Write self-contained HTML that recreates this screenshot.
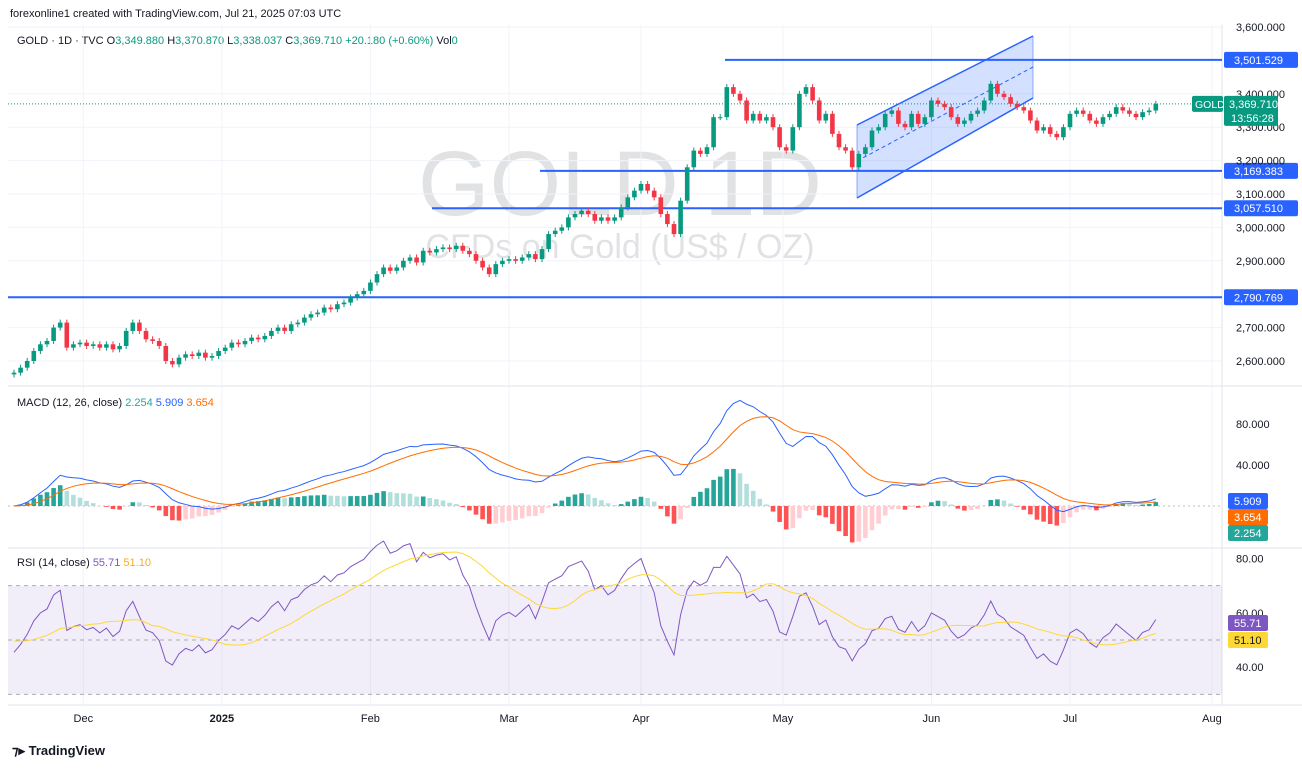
<!DOCTYPE html>
<html><head><meta charset="utf-8">
<style>
body{margin:0;background:#fff;font-family:"Liberation Sans",sans-serif;}
svg text{font-family:"Liberation Sans",sans-serif;}
</style></head>
<body>
<svg id="c" width="1302" height="768" xmlns="http://www.w3.org/2000/svg">
<rect width="1302" height="768" fill="#fff"/>
<text x="10" y="17" font-size="11" fill="#131722">forexonline1 created with TradingView.com, Jul 21, 2025 07:03 UTC</text>
<g font-size="11">
<text x="17" y="44" fill="#131722">GOLD · 1D · TVC  <tspan fill="#131722">O</tspan><tspan fill="#089981">3,349.880</tspan> H<tspan fill="#089981">3,370.870</tspan> L<tspan fill="#089981">3,338.037</tspan> C<tspan fill="#089981">3,369.710</tspan> <tspan fill="#089981">+20.180 (+0.60%)</tspan> Vol<tspan fill="#089981">0</tspan></text>
</g>
<text x="620" y="215" font-size="92" fill="#787b86" fill-opacity="0.22" text-anchor="middle">GOLD 1D</text>
<text x="620" y="258" font-size="34" fill="#787b86" fill-opacity="0.22" text-anchor="middle">CFDs on Gold (US$ / OZ)</text>
<g id="grid"></g>
<g id="main"></g>
<g id="macd"></g>
<g id="rsi"></g>
<g id="axes"></g>
<g>
<text x="12" y="755" font-size="13" font-weight="bold" fill="#131722">⁊▸ TradingView</text>
</g>
</svg>
<script>
const closes=[2565,2580,2600,2630,2650,2660,2700,2715,2640,2650,2655,2645,2650,2640,2650,2635,2645,2690,2715,2690,2665,2660,2645,2600,2590,2610,2620,2615,2625,2610,2615,2630,2640,2655,2650,2660,2670,2665,2675,2690,2700,2690,2710,2715,2730,2740,2745,2760,2755,2770,2775,2790,2800,2810,2835,2860,2880,2870,2880,2900,2910,2895,2930,2925,2935,2940,2935,2945,2930,2920,2900,2880,2860,2890,2900,2905,2900,2910,2920,2905,2935,2980,2990,3000,3030,3040,3050,3040,3020,3030,3020,3030,3060,3090,3110,3130,3110,3090,3040,3010,2980,3080,3180,3230,3220,3240,3330,3330,3420,3400,3380,3320,3340,3320,3330,3300,3240,3230,3300,3400,3420,3380,3320,3340,3280,3240,3230,3180,3220,3240,3290,3300,3340,3350,3310,3300,3340,3310,3330,3380,3370,3360,3330,3310,3320,3340,3350,3380,3430,3400,3390,3370,3360,3350,3320,3290,3300,3280,3270,3300,3340,3350,3340,3320,3310,3330,3340,3360,3350,3340,3330,3345,3350,3370];
const firstOpen=2560;
const priceTicks=[3600,3400,3300,3200,3100,3000,2900,2700,2600];
const levels=[3501.529,3169.383,3057.510,2790.769];
const levelStarts=[725,540,432,8];
const monthLabels=["Dec","2025","Feb","Mar","Apr","May","Jun","Jul","Aug"];
const monthIdx=[10.5,31.5,54,75,95,116.5,139,160,181.5];
const macdTicks=[80,40];
const rsiTicks=[80,60,40];

const NS="http://www.w3.org/2000/svg";
function el(tag,attrs,parent,txt){const e=document.createElementNS(NS,tag);for(const k in attrs)e.setAttribute(k,attrs[k]);if(txt!==undefined)e.textContent=txt;parent.appendChild(e);return e;}
const X=i=>14+i*6.6;
const Y=p=>361-(p-2600)*0.334;
const MY=v=>506-v*1.025;
const RY=v=>640-(v-50)*2.72;
const main=document.getElementById('main'),grid=document.getElementById('grid'),axes=document.getElementById('axes');
const mg=document.getElementById('macd'),rg=document.getElementById('rsi');

priceTicks.forEach(p=>{const l=el('line',{x1:8,x2:1222,y1:Y(p),y2:Y(p),stroke:'#f0f3fa'},grid);});
monthIdx.forEach(i=>{const l=el('line',{x1:X(i),x2:X(i),y1:25,y2:705,stroke:'#f0f3fa'},grid);});
[386,548,705].forEach(y=>{const l=el('line',{x1:8,x2:1302,y1:y,y2:y,stroke:'#e0e3eb'},grid);});
el('line',{x1:1222,x2:1222,y1:25,y2:705,stroke:'#e0e3eb'},grid);

const ch=el('polygon',{points:'857,125 1033,36 1033,98 857,198',fill:'rgba(41,98,255,0.2)',stroke:'none'},main);

el('line',{x1:857,y1:125,x2:1033,y2:36,stroke:'#2962ff','stroke-width':1.5},main);
el('line',{x1:857,y1:198,x2:1033,y2:98,stroke:'#2962ff','stroke-width':1.5},main);
el('line',{x1:857,y1:161,x2:1033,y2:67,stroke:'#2962ff','stroke-dasharray':'4,3'},main);
el('line',{x1:857,y1:125,x2:857,y2:198,stroke:'#2962ff','stroke-opacity':0.5},main);
el('line',{x1:1033,y1:36,x2:1033,y2:98,stroke:'#2962ff','stroke-opacity':0.5},main);

levels.forEach((p,k)=>{
  const l=el('line',{x1:levelStarts[k],x2:1222,y1:Y(p),y2:Y(p),stroke:'#2962ff','stroke-width':2},main);
  
  const r=el('rect',{x:1224,y:Y(p)-8,width:74,height:16,rx:2,fill:'#2962ff'},axes);
  
  el('text',{x:1234,y:Y(p)+4,'font-size':11,fill:'#fff'},axes,p.toLocaleString('en-US',{minimumFractionDigits:3}));
});

let prev=firstOpen;
closes.forEach((c,i)=>{
  const o=prev;prev=c;const up=c>=o;const col=up?'#089981':'#f23645';
  const hi=Math.max(o,c)+9,lo=Math.min(o,c)-9;
  const w=el('line',{x1:X(i),x2:X(i),y1:Y(hi),y2:Y(lo),stroke:col},main);
  
  const b=el('rect',{x:X(i)-2.3,y:Y(Math.max(o,c)),width:4.6,height:Math.max(1,Math.abs(Y(o)-Y(c))),fill:col},main);
  
});
const last=closes[closes.length-1];
const cl=el('line',{x1:8,x2:1222,y1:Y(last),y2:Y(last),stroke:'#089981','stroke-dasharray':'1,2'},main);


priceTicks.forEach(p=>{const t=el('text',{x:1236,y:Y(p)+4,'font-size':11,fill:'#131722'},axes,p.toLocaleString('en-US',{minimumFractionDigits:3}));});
const gl=el('rect',{x:1192,y:Y(last)-8,width:31,height:16,rx:2,fill:'#089981'},axes);
el('text',{x:1195,y:Y(last)+4,'font-size':10.5,fill:'#fff'},axes,'GOLD');
const pl=el('rect',{x:1224,y:Y(last)-8,width:54,height:30,rx:2,fill:'#089981'},axes);
el('text',{x:1229,y:Y(last)+4,'font-size':11,fill:'#fff'},axes,'3,369.710');
el('text',{x:1231,y:Y(last)+18,'font-size':11,fill:'#fff'},axes,'13:56:28');

function ema(a,n){const k=2/(n+1);const r=[];a.forEach((v,i)=>r.push(i?v*k+r[i-1]*(1-k):v));return r;}
const e12=ema(closes,12),e26=ema(closes,26);
const macd=e12.map((v,i)=>v-e26[i]);const sig=ema(macd,9);const hist=macd.map((v,i)=>v-sig[i]);
el('line',{x1:8,x2:1222,y1:MY(0),y2:MY(0),stroke:'#787b86','stroke-dasharray':'2,3','stroke-opacity':0.5},mg);
hist.forEach((h,i)=>{const p=i?hist[i-1]:0;const col=h>=0?(h>=p?'#26a69a':'#b2dfdb'):(h<p?'#ff5252':'#ffcdd2');
  const r=el('rect',{x:X(i)-2.3,y:Math.min(MY(0),MY(h*1.3)),width:4.6,height:Math.abs(MY(h*1.3)-MY(0)),fill:col},mg);
  });
const ml=el('polyline',{points:macd.map((v,i)=>X(i)+','+MY(v)).join(' '),fill:'none',stroke:'#2962ff','stroke-width':1},mg);
const sl=el('polyline',{points:sig.map((v,i)=>X(i)+','+MY(v)).join(' '),fill:'none',stroke:'#ff6d00','stroke-width':1},mg);
macdTicks.forEach(v=>{el('text',{x:1236,y:MY(v)+4,'font-size':11,fill:'#131722'},axes,v.toFixed(3));});
const ml2=el('text',{x:17,y:406,'font-size':11,fill:'#131722'},mg);
ml2.innerHTML='MACD (12, 26, close)  <tspan fill="#26a69a">2.254</tspan>  <tspan fill="#2962ff">5.909</tspan>  <tspan fill="#ff6d00">3.654</tspan>';
[['5.909','#2962ff',493],['3.654','#ff6d00',509],['2.254','#26a69a',525]].forEach(a=>{const r=el('rect',{x:1228,y:a[2],width:40,height:16,rx:2,fill:a[1]},axes);el('text',{x:1234,y:a[2]+12,'font-size':11,fill:'#fff'},axes,a[0]);});

el('rect',{x:8,y:RY(70),width:1214,height:RY(30)-RY(70),fill:'rgba(126,87,194,0.1)'},rg);
[70,50,30].forEach(v=>el('line',{x1:8,x2:1222,y1:RY(v),y2:RY(v),stroke:'#787b86','stroke-dasharray':'4,4','stroke-opacity':0.6},rg));
const rsi=[];let ag=10,al=12;
closes.forEach((c,i)=>{const d=i?c-closes[i-1]:0;const g=Math.max(d,0),l=Math.max(-d,0);
  ag=(ag*13+g)/14;al=(al*13+l)/14;
  rsi.push(al===0?100:100-100/(1+ag/al));});
let mprev=50;
const rma=rsi.map((v,i)=>{const s=rsi.slice(Math.max(0,i-13),i+1);while(s.length<14)s.unshift(mprev);return s.reduce((a,b)=>a+b,0)/s.length;});
const rl=el('polyline',{points:rsi.map((v,i)=>X(i)+','+RY(v)).join(' '),fill:'none',stroke:'#7e57c2','stroke-width':1},rg);
const ra=el('polyline',{points:rma.map((v,i)=>X(i)+','+RY(v)).join(' '),fill:'none',stroke:'#fdd835','stroke-width':1},rg);
rsiTicks.forEach(v=>{el('text',{x:1236,y:RY(v)+4,'font-size':11,fill:'#131722'},axes,v.toFixed(2));});
const rl2=el('text',{x:17,y:566,'font-size':11,fill:'#131722'},rg);
rl2.innerHTML='RSI (14, close)  <tspan fill="#7e57c2">55.71</tspan>  <tspan fill="#f9a825">51.10</tspan>';
[['55.71','#7e57c2',615],['51.10','#fdd835',632]].forEach(a=>{const r=el('rect',{x:1228,y:a[2],width:40,height:16,rx:2,fill:a[1]},axes);el('text',{x:1234,y:a[2]+12,'font-size':11,fill:a[1]=='#fdd835'?'#131722':'#fff'},axes,a[0]);});

monthLabels.forEach((m,k)=>{const t=el('text',{x:X(monthIdx[k]),y:722,'font-size':11,fill:'#131722','text-anchor':'middle','font-weight':m==='2025'?'bold':'normal'},axes,m);});
</script>
</body></html>
